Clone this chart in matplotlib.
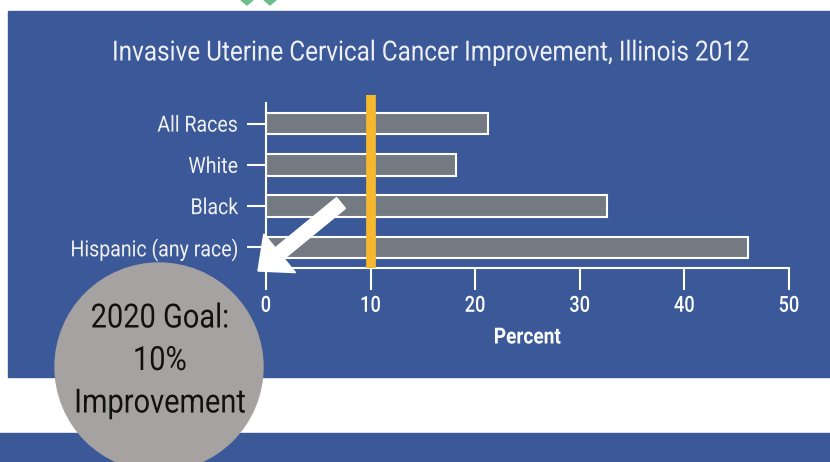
import matplotlib.pyplot as plt
import matplotlib.patches as mpatches
import matplotlib.transforms as mtransforms
from matplotlib.patheffects import AbstractPathEffect

groups = ["All Races", "White", "Black", "Hispanic (any race)"]
improvement = [21.2, 18.2, 32.6, 46.1]
goal = 10
xticks = [0, 10, 20, 30, 40, 50]

blue = "#3B5998"
bar_gray = "#737A82"
circle_gray = "#A7A2A2"
gold = "#F5B82E"

plt.rcParams['font.family'] = ['Roboto', 'DejaVu Sans']


class Squeeze(AbstractPathEffect):
    # narrow the glyphs horizontally, keeping the text anchored by its alignment
    def __init__(self, sx=0.8, frac=0.5):
        super().__init__()
        self.sx = sx
        self.frac = frac

    def draw_path(self, renderer, gc, tpath, affine, rgbFace=None):
        w = tpath.get_extents().x1 * self.frac
        t = mtransforms.Affine2D().translate(-w, 0).scale(self.sx, 1).translate(w, 0)
        renderer.draw_path(gc, tpath, t + affine, rgbFace)


fig = plt.figure(figsize=(8.3, 4.62), dpi=100)
fig.patch.set_facecolor("white")

# pixel transform, origin top-left
px = mtransforms.Affine2D().scale(1 / 100, -1 / 100).translate(0, 4.62) + fig.dpi_scale_trans

# background panels
fig.patches.append(mpatches.Rectangle((8, 11), 830, 366, transform=px, color=blue, zorder=-2))
fig.patches.append(mpatches.Rectangle((0, 433), 830, 40, transform=px, color=blue, zorder=-2))
for cx in (247, 270):
    fig.patches.append(mpatches.Polygon([(cx - 6, 0), (cx + 6, 0), (cx, 5)], closed=True,
                                        transform=px, color="#6DBE8C", zorder=-2))

ax = fig.add_axes([266 / 830, 1 - 268 / 462, (789 - 266) / 830, (268 - 103) / 462])
ax.set_zorder(1)
ax.set_facecolor("none")
ypos = list(range(len(groups)))
ax.barh(ypos, improvement, height=0.52, color=bar_gray, edgecolor="white", linewidth=1.5, zorder=2)
ax.set_ylim(3.5, -0.5)
ax.set_xlim(0, 50)
ax.axvline(goal, ymin=0, ymax=1.05, color=gold, linewidth=7, zorder=3, clip_on=False,
           solid_capstyle="butt")

ax.set_yticks(ypos)
ax.set_yticklabels(groups, fontsize=16, color="#F0F0F0")
ax.set_xticks(xticks)
ax.set_xticklabels([str(t) for t in xticks], fontsize=16, color="white", fontweight="medium")
ax.tick_params(axis="y", length=14, width=1.5, color="white", pad=6)
ax.tick_params(axis="x", length=16, width=1.5, color="white", pad=4)
for lab in ax.get_yticklabels():
    lab.set_path_effects([Squeeze(0.88, 1.0)])
for lab in ax.get_xticklabels():
    lab.set_path_effects([Squeeze(0.82, 0.5)])
for s in ("top", "right"):
    ax.spines[s].set_visible(False)
for s in ("left", "bottom"):
    ax.spines[s].set_color("white")
    ax.spines[s].set_linewidth(1.5)
xl = ax.set_xlabel("Percent", fontsize=16, color="white", fontweight="bold", labelpad=7)
xl.set_path_effects([Squeeze(0.86, 0.5)])

fig.text(430 / 830, 1 - 53 / 462, "Invasive Uterine Cervical Cancer Improvement, Illinois 2012",
         ha="center", va="center", fontsize=20, color="#EEF0F5",
         path_effects=[Squeeze(0.875, 0.5)])

# arrow
fig.patches.append(mpatches.FancyArrow(341, 203, -83, 68, width=14, head_width=50, head_length=28,
                                       length_includes_head=True, transform=px,
                                       color="white", zorder=5))

# goal circle
fig.patches.append(mpatches.Circle((159, 367), 104, transform=px, color=circle_gray, zorder=6))
fig.text(160 / 830, 1 - 361 / 462, "2020 Goal:\n10%\nImprovement", ha="center", va="center",
         fontsize=24, color="#111111", linespacing=1.42, zorder=7,
         path_effects=[Squeeze(0.87, 0.5)])

fig.savefig("out.png", dpi=100)
